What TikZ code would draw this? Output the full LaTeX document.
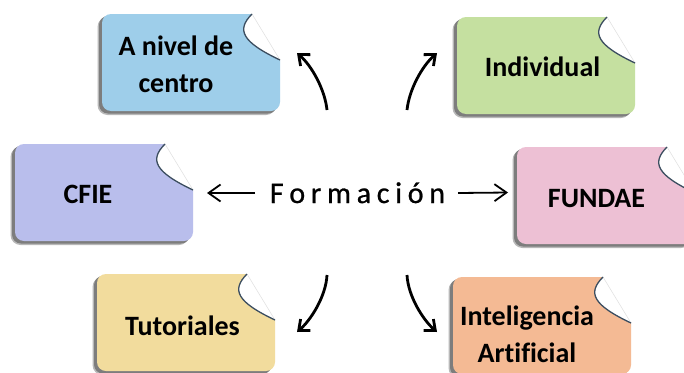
\documentclass[tikz,border=0pt]{standalone}
\usepackage{fontspec}
\setmainfont{Carlito}[Ligatures=NoCommon]
\usetikzlibrary{arrows.meta}
\definecolor{cblue}{RGB}{158,206,234}
\definecolor{cgreen}{RGB}{197,224,160}
\definecolor{cpurple}{RGB}{185,190,236}
\definecolor{cpink}{RGB}{237,192,212}
\definecolor{cyellow}{RGB}{242,220,157}
\definecolor{corange}{RGB}{244,186,148}
\definecolor{curl}{RGB}{60,78,96}
\definecolor{shadowc}{RGB}{125,125,125}
\tikzset{
  boxtext/.style={font=\bfseries\fontsize{28}{37}\selectfont, align=center, inner sep=0pt, anchor=base},
  midtext/.style={font=\addfontfeature{FakeBold=0.8}\fontsize{30}{36}\selectfont, inner sep=0pt, anchor=base},
  harr/.style={line width=1.8pt, -{Straight Barb[length=12pt,width=17pt]}},
  carr/.style={line width=2.8pt, -{Straight Barb[length=9pt,width=15pt]}},
}
% #1 left, #2 top, #3 colour
\newcommand\foldnote[3]{%
  \begin{scope}[shift={(#1,#2)}]
    \fill[shadowc!55, rounded corners=10pt] (-4.5,3) -- (-4.5,101) -- (174,101) -- (174,50) -- (146,3) -- cycle;
    \fill[shadowc, rounded corners=9pt] (-3,2) -- (-3,99.5) -- (175,99.5) -- (175,48) -- (148,2) -- cycle;
    \fill[#3, rounded corners=9pt] (178,46) -- (178,97) -- (0,97) -- (0,0) -- (140,0) [sharp corners] -- (150,0)
      .. controls (134,16) and (140,28) .. (178,46) -- cycle;
    \fill[white] (150,0) .. controls (134,16) and (140,28) .. (178,46) -- cycle;
    \draw[gray!25, line width=0.5pt] (150,0) -- (178,46);
    \draw[curl, line width=1.3pt] (150,0) .. controls (134,16) and (140,28) .. (178,46);
  \end{scope}}
\begin{document}
\begin{tikzpicture}[x=1pt,y=-1pt]
  \useasboundingbox (0,0) rectangle (684,372);
  \clip (0,0) rectangle (684,372);
  \fill[white] (0,0) rectangle (684,372);
  % boxes
  \foldnote{102}{14}{cblue}
  \foldnote{457}{17}{cgreen}
  \foldnote{15}{144}{cpurple}
  \foldnote{517}{147}{cpink}
  \foldnote{97}{274}{cyellow}
  \foldnote{453}{277}{corange}
  % texts (base anchor = last line's baseline)
  \node[boxtext] (centro) at (176,92) {A nivel de\\centro};
  \node[boxtext] (indiv) at (542.5,76) {Individual};
  \node[boxtext] (cfie) at (88,203) {CFIE};
  \node[boxtext] (fundae) at (596.5,207) {FUNDAE};
  \node[boxtext] (tutor) at (182.5,335) {Tutoriales};
  \node[boxtext] (ia) at (527,362) {Inteligencia\\Artificial};
  \node[midtext] (form) at (357.5,203) {F\hspace{5.7pt}o\hspace{5.7pt}r\hspace{5.7pt}m\hspace{5.7pt}a\hspace{5.7pt}c\hspace{5.7pt}i\hspace{5.7pt}ó\hspace{5.7pt}n};
  % arrow end points
  \coordinate (l1) at (255,193);
  \coordinate (l2) at (207,193);
  \coordinate (r1) at (458,193);
  \coordinate (r2) at (508,192.5);
  \coordinate (ul1) at (327,110);
  \coordinate (ul2) at (297,53);
  \coordinate (ur1) at (407,110);
  \coordinate (ur2) at (437,53);
  \coordinate (dl1) at (327,275);
  \coordinate (dl2) at (297,332);
  \coordinate (dr1) at (407,275);
  \coordinate (dr2) at (437,332);
  \draw[harr] (l1) -- (l2);
  \draw[harr] (r1) -- (r2);
  \draw[carr] (ul1) .. controls (325,90) and (312,66) .. (ul2);
  \draw[carr] (ur1) .. controls (409,90) and (422,66) .. (ur2);
  \draw[carr] (dl1) .. controls (326,296) and (311,320) .. (dl2);
  \draw[carr] (dr1) .. controls (408,296) and (423,320) .. (dr2);
\end{tikzpicture}
\end{document}
